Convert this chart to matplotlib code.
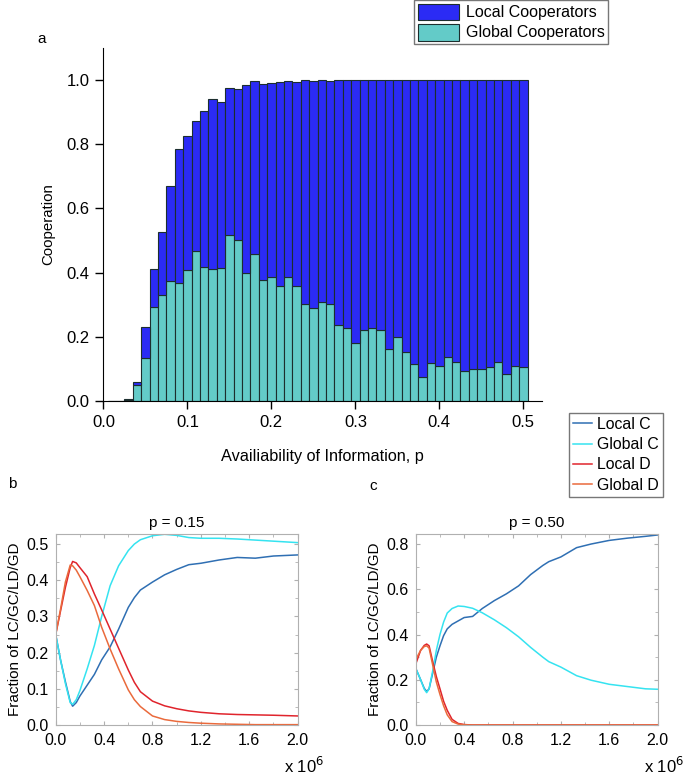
import numpy as np
import matplotlib
matplotlib.use('Agg')
import matplotlib.pyplot as plt
from matplotlib.ticker import MultipleLocator, FormatStrFormatter

plt.rcParams['font.family'] = ['Liberation Sans', 'DejaVu Sans']

# panel a: cooperation vs availability of information
p_vals = [round(0.01 * k, 2) for k in range(1, 51)]
total_coop = [0.0, 0.0, 0.006, 0.058, 0.23, 0.41, 0.527, 0.67, 0.785, 0.827,
              0.872, 0.904, 0.94, 0.931, 0.976, 0.972, 0.984, 0.996, 0.988, 0.99,
              0.993, 0.996, 0.993, 0.999, 0.998, 0.999, 0.998, 1.0, 1.0, 1.0,
              1.0, 0.999, 1.0, 1.0, 1.0, 1.0, 1.0, 1.0, 1.0, 1.0,
              1.0, 1.0, 1.0, 1.0, 1.0, 1.0, 1.0, 1.0, 1.0, 1.0]
global_coop = [0.0, 0.0, 0.002, 0.05, 0.135, 0.294, 0.33, 0.375, 0.367, 0.407,
               0.467, 0.416, 0.41, 0.413, 0.518, 0.502, 0.40, 0.457, 0.376, 0.385,
               0.359, 0.387, 0.359, 0.301, 0.291, 0.307, 0.303, 0.237, 0.226, 0.18,
               0.221, 0.228, 0.221, 0.163, 0.198, 0.154, 0.116, 0.074, 0.119, 0.108,
               0.137, 0.12, 0.094, 0.10, 0.10, 0.107, 0.12, 0.083, 0.108, 0.105]
local_coop = [t - g for t, g in zip(total_coop, global_coop)]

# panel b: p = 0.15 (time in units of 1e6)
t_b = [0, 0.04, 0.08, 0.12, 0.14, 0.17, 0.20, 0.26, 0.32, 0.38, 0.45, 0.52, 0.60, 0.65,
       0.70, 0.80, 0.90, 1.00, 1.10, 1.20, 1.35, 1.50, 1.65, 1.80, 2.00]
lc_b = [0.25, 0.18, 0.12, 0.065, 0.052, 0.062, 0.08, 0.11, 0.14, 0.18, 0.216, 0.265,
        0.325, 0.352, 0.373, 0.395, 0.415, 0.43, 0.443, 0.447, 0.456, 0.463, 0.461,
        0.467, 0.47]
gc_b = [0.25, 0.18, 0.115, 0.062, 0.057, 0.07, 0.095, 0.155, 0.22, 0.30, 0.385, 0.44,
        0.482, 0.50, 0.512, 0.523, 0.527, 0.524, 0.518, 0.516, 0.516, 0.514, 0.511,
        0.508, 0.504]
ld_b = [0.25, 0.315, 0.38, 0.435, 0.452, 0.448, 0.435, 0.41, 0.362, 0.318, 0.265,
        0.212, 0.152, 0.118, 0.092, 0.066, 0.053, 0.045, 0.039, 0.035, 0.031, 0.029,
        0.028, 0.027, 0.025]
gd_b = [0.25, 0.32, 0.395, 0.442, 0.44, 0.428, 0.41, 0.372, 0.33, 0.27, 0.21, 0.155,
        0.097, 0.07, 0.051, 0.025, 0.015, 0.01, 0.007, 0.005, 0.003, 0.002, 0.001,
        0.001, 0.001]

# panel c: p = 0.50
t_c = [0, 0.04, 0.07, 0.09, 0.11, 0.14, 0.17, 0.20, 0.23, 0.26, 0.30, 0.35, 0.40, 0.47,
       0.55, 0.65, 0.75, 0.85, 0.95, 1.05, 1.10, 1.20, 1.33, 1.45, 1.60, 1.75, 1.90, 2.00]
lc_c = [0.25, 0.20, 0.162, 0.148, 0.16, 0.23, 0.30, 0.35, 0.395, 0.425, 0.445, 0.46,
        0.475, 0.48, 0.515, 0.55, 0.58, 0.615, 0.665, 0.705, 0.722, 0.743, 0.784, 0.80,
        0.816, 0.826, 0.834, 0.84]
gc_c = [0.25, 0.20, 0.158, 0.143, 0.16, 0.24, 0.33, 0.40, 0.455, 0.495, 0.515, 0.526,
        0.524, 0.516, 0.496, 0.465, 0.43, 0.39, 0.343, 0.30, 0.28, 0.256, 0.218, 0.198,
        0.18, 0.17, 0.16, 0.158]
ld_c = [0.27, 0.33, 0.352, 0.358, 0.35, 0.28, 0.214, 0.16, 0.105, 0.065, 0.025, 0.007,
        0.002, 0.0, 0.0, 0.0, 0.0, 0.0, 0.0, 0.0, 0.0, 0.0, 0.0, 0.0, 0.0, 0.0, 0.0, 0.0]
gd_c = [0.29, 0.33, 0.347, 0.35, 0.34, 0.265, 0.19, 0.135, 0.085, 0.045, 0.015, 0.004,
        0.001, 0.0, 0.0, 0.0, 0.0, 0.0, 0.0, 0.0, 0.0, 0.0, 0.0, 0.0, 0.0, 0.0, 0.0, 0.0]

series_names = ['Local C', 'Global C', 'Local D', 'Global D']
series_colors = ['#2f6fb3', '#35e3f0', '#e0242c', '#ea6a3c']

fig = plt.figure(figsize=(6.85, 7.8), dpi=100)

# ---- panel a
ax = fig.add_axes([0.151, 0.4859, 0.640, 0.4526])
ax.bar(p_vals, global_coop, width=0.01, color='#63cbc8', edgecolor='#1c2e2e', linewidth=0.8,
       label='Global Cooperators')
ax.bar(p_vals, local_coop, width=0.01, bottom=global_coop, color='#2b2bf5',
       edgecolor='#1c2e2e', linewidth=0.8, label='Local Cooperators')
ax.set_xlim(0, 0.522)
ax.set_ylim(0, 1.1)
ax.set_xticks([0.0, 0.1, 0.2, 0.3, 0.4, 0.5])
ax.set_yticks([0.0, 0.2, 0.4, 0.6, 0.8, 1.0])
ax.xaxis.set_major_formatter(FormatStrFormatter('%.1f'))
ax.yaxis.set_major_formatter(FormatStrFormatter('%.1f'))
ax.spines['top'].set_visible(False)
ax.spines['right'].set_visible(False)
ax.tick_params(labelsize=12, length=6, width=1, pad=4)
ax.set_xlabel('Availiability of Information, p', fontsize=11.7, labelpad=14)
ax.set_ylabel('Cooperation', fontsize=10.8, labelpad=8)
h, l = ax.get_legend_handles_labels()
fig.legend(h[::-1], l[::-1], loc='upper left', bbox_to_anchor=(0.605, 0.9995), fontsize=11.5,
           fancybox=False, edgecolor='#555555', handlelength=2.6, handleheight=1.25,
           handletextpad=0.45, borderpad=0.2, labelspacing=0.2, borderaxespad=0)
fig.text(0.055, 0.945, 'a', fontsize=11)


def style_ts(axis, ymax, major, minor):
    axis.set_xlim(0, 2.0)
    axis.set_ylim(0, ymax)
    axis.xaxis.set_major_locator(MultipleLocator(0.4))
    axis.xaxis.set_minor_locator(MultipleLocator(0.2))
    axis.yaxis.set_major_locator(MultipleLocator(major))
    axis.yaxis.set_minor_locator(MultipleLocator(minor))
    axis.xaxis.set_major_formatter(FormatStrFormatter('%.1f'))
    axis.yaxis.set_major_formatter(FormatStrFormatter('%.1f'))
    for s in axis.spines.values():
        s.set_color('#b0b0b0')
        s.set_linewidth(0.8)
    axis.tick_params(which='both', direction='in', top=True, right=True, color='#b0b0b0',
                     labelsize=11.5)
    axis.tick_params(axis='x', which='major', pad=6)
    axis.tick_params(axis='y', which='major', pad=5)
    axis.tick_params(which='major', length=3)
    axis.tick_params(which='minor', length=2)
    axis.set_ylabel('Fraction of LC/GC/LD/GD', fontsize=11, labelpad=3)
    axis.text(1.11, -0.215, 'x 10$^{6}$', transform=axis.transAxes, fontsize=12,
              ha='right', va='center')


# ---- panel b
axb = fig.add_axes([0.0813, 0.0705, 0.3533, 0.2445])
for ys, c, n in zip([lc_b, gc_b, ld_b, gd_b], series_colors, series_names):
    axb.plot(t_b, ys, color=c, lw=1.1, label=n)
style_ts(axb, 0.527, 0.1, 0.05)
axb.set_title('p = 0.15', fontsize=11, pad=5)
fig.text(0.012, 0.375, 'b', fontsize=11)

# ---- panel c
axc = fig.add_axes([0.607, 0.0705, 0.353, 0.2445])
for ys, c, n in zip([lc_c, gc_c, ld_c, gd_c], series_colors, series_names):
    axc.plot(t_c, ys, color=c, lw=1.1, label=n)
style_ts(axc, 0.843, 0.2, 0.1)
axc.set_title('p = 0.50', fontsize=11, pad=5)
fig.text(0.539, 0.372, 'c', fontsize=11)

h, l = axb.get_legend_handles_labels()
fig.legend(h, l, loc='upper left', bbox_to_anchor=(0.831, 0.4705), fontsize=11.4,
           fancybox=False, edgecolor='#555555', handlelength=1.2, handletextpad=0.3,
           borderpad=0.25, labelspacing=0.33, borderaxespad=0)

fig.savefig('out.png', dpi=100)
